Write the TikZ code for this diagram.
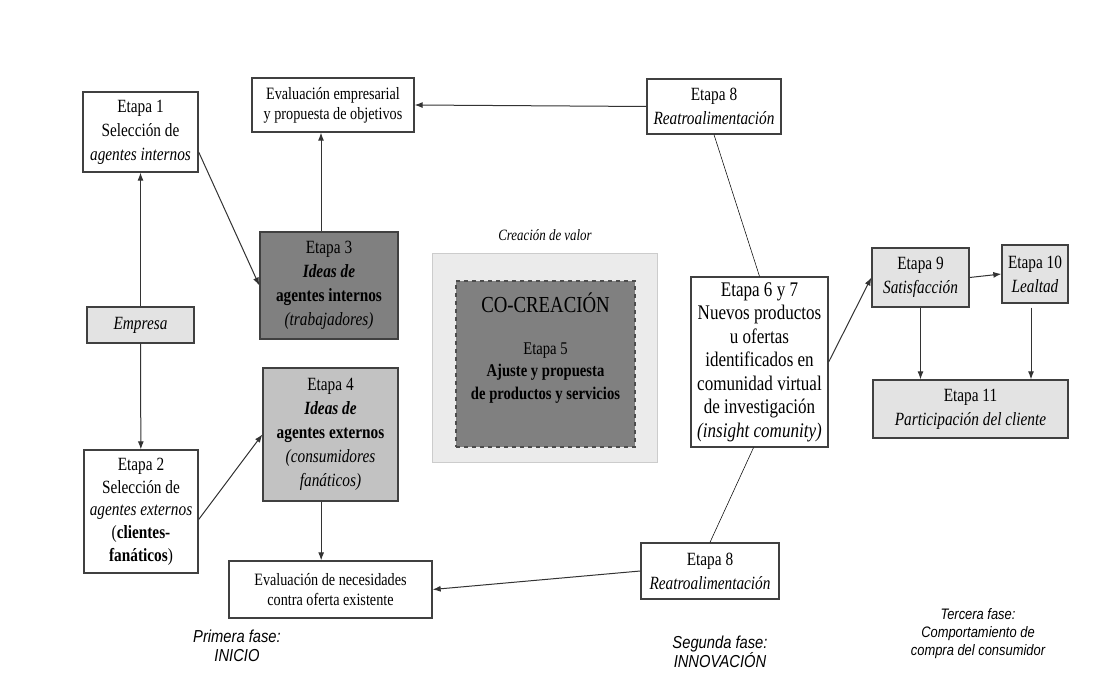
\documentclass[tikz,border=0pt]{standalone}
\usepackage{fontspec}
\setmainfont{Liberation Serif}[FakeStretch=0.82]
\setsansfont{Liberation Sans}[FakeStretch=0.85]
\usetikzlibrary{arrows.meta}

\definecolor{darkfill}{HTML}{808080}
\definecolor{midfill}{HTML}{C2C2C2}
\definecolor{lightfill}{HTML}{E3E3E3}
\definecolor{outerfill}{HTML}{EBEBEB}

\newcommand*\pxu{0.75pt}
\tikzset{stage/.style 2 args={
    draw=black!75,
    line width=1pt,
    rectangle,
    align=center,
    inner sep=0pt,
    minimum width=#1*\pxu,
    minimum height=#2*\pxu,
    font=\fontsize{14pt}{18pt}\selectfont
},
link/.style={
    -{Latex[length=6pt,width=4.5pt]},
    draw=black!80,
    line width=0.75pt
},
phase/.style={
    align=center,
    font=\sffamily\itshape\fontsize{13pt}{14.5pt}\selectfont
}}

\begin{document}
\begin{tikzpicture}[x=\pxu,y=-\pxu]

    \useasboundingbox (0,0) rectangle (1107,673);

    % First phase: the company and its agents.
    \node[stage={115}{80}] (etapa1) at (140.5,132)
        {Etapa 1\\Selección de\\\textit{agentes internos}};
    \node[stage={107}{36},fill=lightfill] (empresa) at (140.5,325) {\textit{Empresa}};
    \node[stage={114}{123},font=\fontsize{14pt}{17pt}\selectfont] (etapa2) at (141,511.5)
        {Etapa 2\\Selección de\\\textit{agentes externos}\\(\textbf{clientes-}\\\textbf{fanáticos})};
    \node[stage={162}{54},font=\fontsize{13pt}{15pt}\selectfont] (evalemp) at (333,105)
        {Evaluación empresarial\\y propuesta de objetivos};
    \node[stage={138}{107},fill=darkfill] (etapa3) at (329,285.5)
        {Etapa 3\\\textbf{\textit{Ideas de}}\\\textbf{agentes internos}\\\textit{(trabajadores)}};
    \node[stage={135}{133},fill=midfill] (etapa4) at (330.5,434.5)
        {Etapa 4\\\textbf{\textit{Ideas de}}\\\textbf{agentes externos}\\\textit{(consumidores}\\\textit{fanáticos)}};
    \node[stage={203}{57},font=\fontsize{13pt}{15pt}\selectfont] (evalnec) at (330.5,589.5)
        {Evaluación de necesidades\\contra oferta existente};

    % Value creation in the middle.
    \node[font=\itshape\fontsize{11.8pt}{13pt}\selectfont] (valor) at (545,235) {Creación de valor};
    \node[draw=black!20,line width=0.6pt,fill=outerfill,minimum width=225*\pxu,
        minimum height=209*\pxu] (marco) at (544.5,357.5) {};
    \node[draw=black!70,dashed,line width=0.8pt,fill=darkfill,minimum width=179*\pxu,
        minimum height=166*\pxu] (cocrea) at (545.5,364) {};
    \node[font=\fontsize{17.2pt}{18pt}\selectfont] (cotitulo) at (545.5,303) {CO-CREACIÓN};
    \node[align=center,font=\fontsize{13.4pt}{17pt}\selectfont] (etapa5) at (545.5,373)
        {Etapa 5\\\textbf{Ajuste y propuesta}\\\textbf{de productos y servicios}};

    % Second phase: innovation and feedback.
    \node[stage={134}{55}] (etapa8a) at (714,106.5) {Etapa 8\\\textit{Reatroalimentación}};
    \node[stage={137}{170},font=\fontsize{15.6pt}{17.6pt}\selectfont] (etapa67) at (759.5,362)
        {Etapa 6 y 7\\Nuevos productos\\u ofertas\\identificados en\\comunidad virtual\\de investigación\\\textit{(insight comunity)}};
    \node[stage={138}{56}] (etapa8b) at (710,571) {Etapa 8\\\textit{Reatroalimentación}};

    % Third phase: consumer behaviour.
    \node[stage={97}{59},fill=lightfill] (etapa9) at (920.5,277.5) {Etapa 9\\\textit{Satisfacción}};
    \node[stage={66}{58},fill=lightfill] (etapa10) at (1035,274) {Etapa 10\\\textit{Lealtad}};
    \node[stage={195}{58},fill=lightfill] (etapa11) at (970.5,409)
        {Etapa 11\\\textit{Participación del cliente}};

    % Phase captions.
    \node[phase] (fase1) at (237,646) {Primera fase:\\INICIO};
    \node[phase] (fase2) at (720,652) {Segunda fase:\\INNOVACIÓN};
    \node[phase,font=\sffamily\itshape\fontsize{11.4pt}{13.5pt}\selectfont] (fase3) at (978,634)
        {Tercera fase:\\Comportamiento de\\compra del consumidor};

    % Connectors.
    \draw[link] (empresa) -- (etapa1);
    \draw[link] (empresa) -- (etapa2);
    \draw[link] ([yshift=-15pt]etapa1.east) -- (etapa3.west);
    \draw[link] ([yshift=-6pt]etapa2.east) -- (etapa4.west);
    \draw[link] ([xshift=-6pt]etapa3.north) -- ([xshift=-6pt]etapa3.north |- evalemp.south);
    \draw[link] ([xshift=-7pt]etapa4.south) -- ([xshift=-7pt]etapa4.south |- evalnec.north);
    \draw[link] (etapa8a.west) -- (evalemp.east);
    \draw (etapa8a.south) -- (etapa67.north);
    \draw ([xshift=-4.5pt]etapa67.south) -- (etapa8b.north);
    \draw[link] (etapa8b.west) -- (evalnec.east);
    \draw[link] (etapa67.east) -- (etapa9.west);
    \draw[link] (etapa9.east) -- (etapa10.west);
    \draw[link] (etapa9.south) -- (etapa9.south |- etapa11.north);
    \draw[link,shorten <=3pt] ([xshift=-3pt]etapa10.south) -- ([xshift=-3pt]etapa10.south |- etapa11.north);

\end{tikzpicture}
\end{document}
